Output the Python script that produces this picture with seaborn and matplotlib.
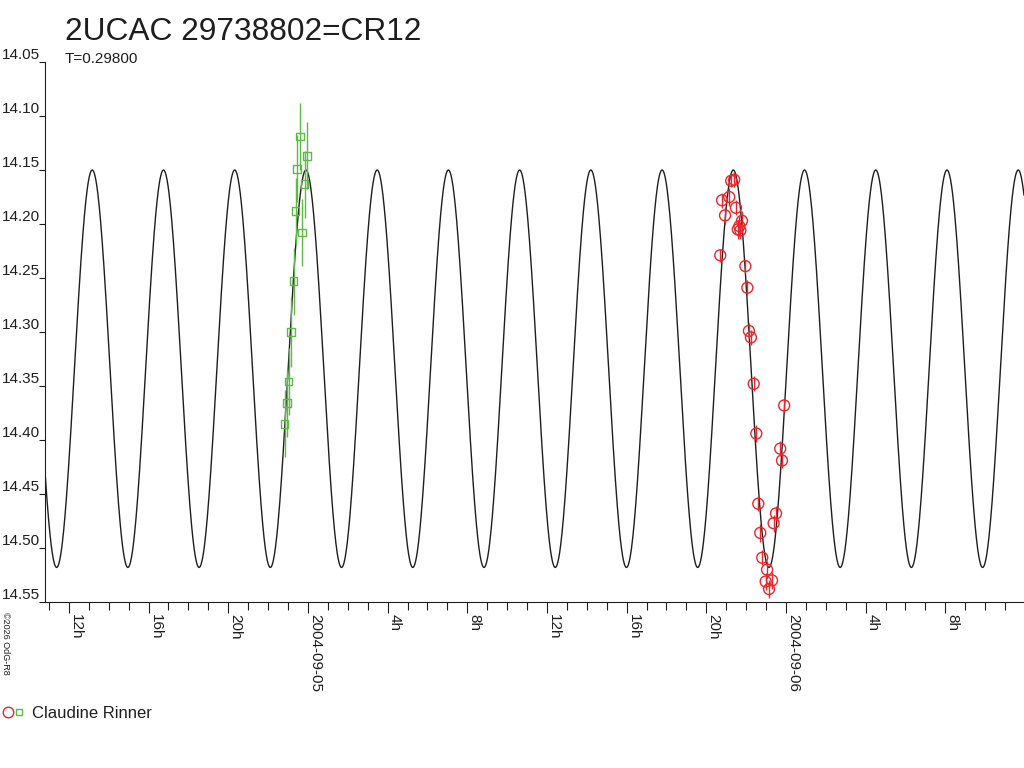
import numpy as np
import pandas as pd
import matplotlib
matplotlib.use('Agg')
import matplotlib.pyplot as plt
from matplotlib.lines import Line2D
from matplotlib.legend_handler import HandlerTuple
import seaborn as sns

# ---------------------------------------------------------------
# data
# ---------------------------------------------------------------
star_name = '2UCAC 29738802=CR12'
period_d = 0.29800
observer = 'Claudine Rinner'

# model light curve: time of a maximum, bright / faint levels
max_epoch = pd.Timestamp('2004-09-04 23:54')
mag_bright = 14.150
mag_faint = 14.518

# green squares, hours from 2004-09-05 00:00
green_hours = [-0.40, -0.05, -0.55, -0.17, -0.62, -0.29, -0.72, -0.84, -0.97, -1.05, -1.17]
green_mag = [14.119, 14.137, 14.149, 14.163, 14.188, 14.208, 14.253, 14.300, 14.346, 14.366, 14.385]
green_err = [0.031, 0.031, 0.031, 0.031, 0.031, 0.031, 0.031, 0.032, 0.031, 0.031, 0.031]

# red circles, hours from 2004-09-06 00:00
red_hours = [-2.75, -2.60, -3.21, -2.85, -2.51, -3.06, -2.21, -2.34, -2.42, -2.29,
             -3.30, -2.04, -1.94, -1.86, -1.76, -1.62, -0.09, -1.49, -0.29, -0.20,
             -1.39, -0.50, -0.62, -1.29, -1.19, -0.95, -1.02, -0.70, -0.85]
red_mag = [14.160, 14.159, 14.178, 14.175, 14.185, 14.192, 14.197, 14.202, 14.205, 14.206,
           14.229, 14.239, 14.259, 14.299, 14.305, 14.348, 14.368, 14.394, 14.408, 14.419,
           14.459, 14.468, 14.477, 14.486, 14.509, 14.520, 14.531, 14.530, 14.538]
red_err = [0.006, 0.007, 0.007, 0.008, 0.007, 0.008, 0.009, 0.009, 0.009, 0.008,
           0.006, 0.006, 0.007, 0.007, 0.007, 0.007, 0.006, 0.008, 0.007, 0.007,
           0.007, 0.007, 0.008, 0.008, 0.007, 0.008, 0.008, 0.008, 0.008]

x_start = pd.Timestamp('2004-09-04 10:48')
x_end = pd.Timestamp('2004-09-06 11:57')
y_ticks = [14.05, 14.10, 14.15, 14.20, 14.25, 14.30, 14.35, 14.40, 14.45, 14.50, 14.55]

red = '#e8262c'
green = '#5cbb45'
ink = '#1e1e1e'

# ---------------------------------------------------------------
# style
# ---------------------------------------------------------------
sns.set_style('white')
plt.rcParams['font.family'] = ['Liberation Sans', 'DejaVu Sans']
plt.rcParams['text.color'] = ink
plt.rcParams['xtick.color'] = ink
plt.rcParams['ytick.color'] = ink

fig = plt.figure(figsize=(10.24, 7.68), dpi=100)
ax = fig.add_axes([45 / 1024, 1 - 602 / 768, 979 / 1024, 540 / 768])

# model curve (two minima per period)
t_model = pd.date_range(x_start, x_end, periods=3000)
phase = ((t_model - max_epoch) / pd.Timedelta(days=1)) / period_d
mean_mag = (mag_bright + mag_faint) / 2
amp = (mag_faint - mag_bright) / 2
mag_model = mean_mag - amp * np.cos(4 * np.pi * np.asarray(phase))
sns.lineplot(x=t_model, y=mag_model, ax=ax, color=ink, lw=1.0, zorder=1)

# observations
t_green = pd.Timestamp('2004-09-05') + pd.to_timedelta(green_hours, unit='h')
t_red = pd.Timestamp('2004-09-06') + pd.to_timedelta(red_hours, unit='h')

ax.errorbar(t_green, green_mag, yerr=green_err, fmt='none', ecolor=green, elinewidth=1.0, capsize=0, zorder=2)
ax.errorbar(t_red, red_mag, yerr=red_err, fmt='none', ecolor=red, elinewidth=1.0, capsize=0, zorder=2)
sns.scatterplot(x=t_green, y=green_mag, ax=ax, marker='s', s=30, facecolors='none',
                edgecolor=green, linewidth=1.0, zorder=3)
sns.scatterplot(x=t_red, y=red_mag, ax=ax, marker='o', s=62, facecolors='none',
                edgecolor=red, linewidth=1.0, zorder=3)

# axes
ax.set_xlim(x_start, x_end)
ax.set_ylim(14.55, 14.05)
for side in ['top', 'right']:
    ax.spines[side].set_visible(False)
for side in ['left', 'bottom']:
    ax.spines[side].set_color(ink)
    ax.spines[side].set_linewidth(0.8)
ax.set_xlabel('')
ax.set_ylabel('')

ax.set_yticks(y_ticks, labels=[f'{v:.2f}' for v in y_ticks], va='bottom')
ax.tick_params(axis='y', direction='out', length=4.5, width=0.8, pad=-0.8, labelsize=11, left=True)

major = pd.date_range('2004-09-04 12:00', x_end, freq='4h')
minor = pd.date_range('2004-09-04 11:00', x_end, freq='1h')
major_labels = [m.strftime('%Y-%m-%d') if m.hour == 0 else f'{m.hour}h' for m in major]
ax.set_xticks(major, labels=major_labels, rotation=270, ha='left', va='top')
ax.set_xticks(minor, minor=True)
ax.tick_params(axis='x', which='major', direction='out', length=8, width=0.8, pad=1, labelsize=11, bottom=True)
ax.tick_params(axis='x', which='minor', direction='out', length=5.8, width=0.8, bottom=True)
ax.grid(False)

# texts
fig.text(65 / 1024, 1 - 39.5 / 768, star_name, fontsize=22.8, va='baseline', ha='left')
fig.text(65 / 1024, 1 - 63 / 768, f'T={period_d:.5f}', fontsize=11, va='baseline', ha='left')
fig.text(1 / 1024, 1 - 612 / 768, '©2026 OdG-R8', fontsize=6.5, rotation=270, ha='left', va='top')

# legend
h_red = Line2D([], [], marker='o', ls='', mfc='none', mec=red, ms=7.6, mew=1.0)
h_green = Line2D([], [], marker='s', ls='', mfc='none', mec=green, ms=4.6, mew=1.0)
fig.legend(handles=[(h_red, h_green)], labels=[observer],
           handler_map={tuple: HandlerTuple(ndivide=None, pad=0.1)},
           loc='center left', bbox_to_anchor=(3 / 1024, 1 - 713 / 768),
           frameon=False, borderpad=0, borderaxespad=0,
           handlelength=1.25, handletextpad=0.5, fontsize=12)

fig.savefig('out.png', dpi=100)
